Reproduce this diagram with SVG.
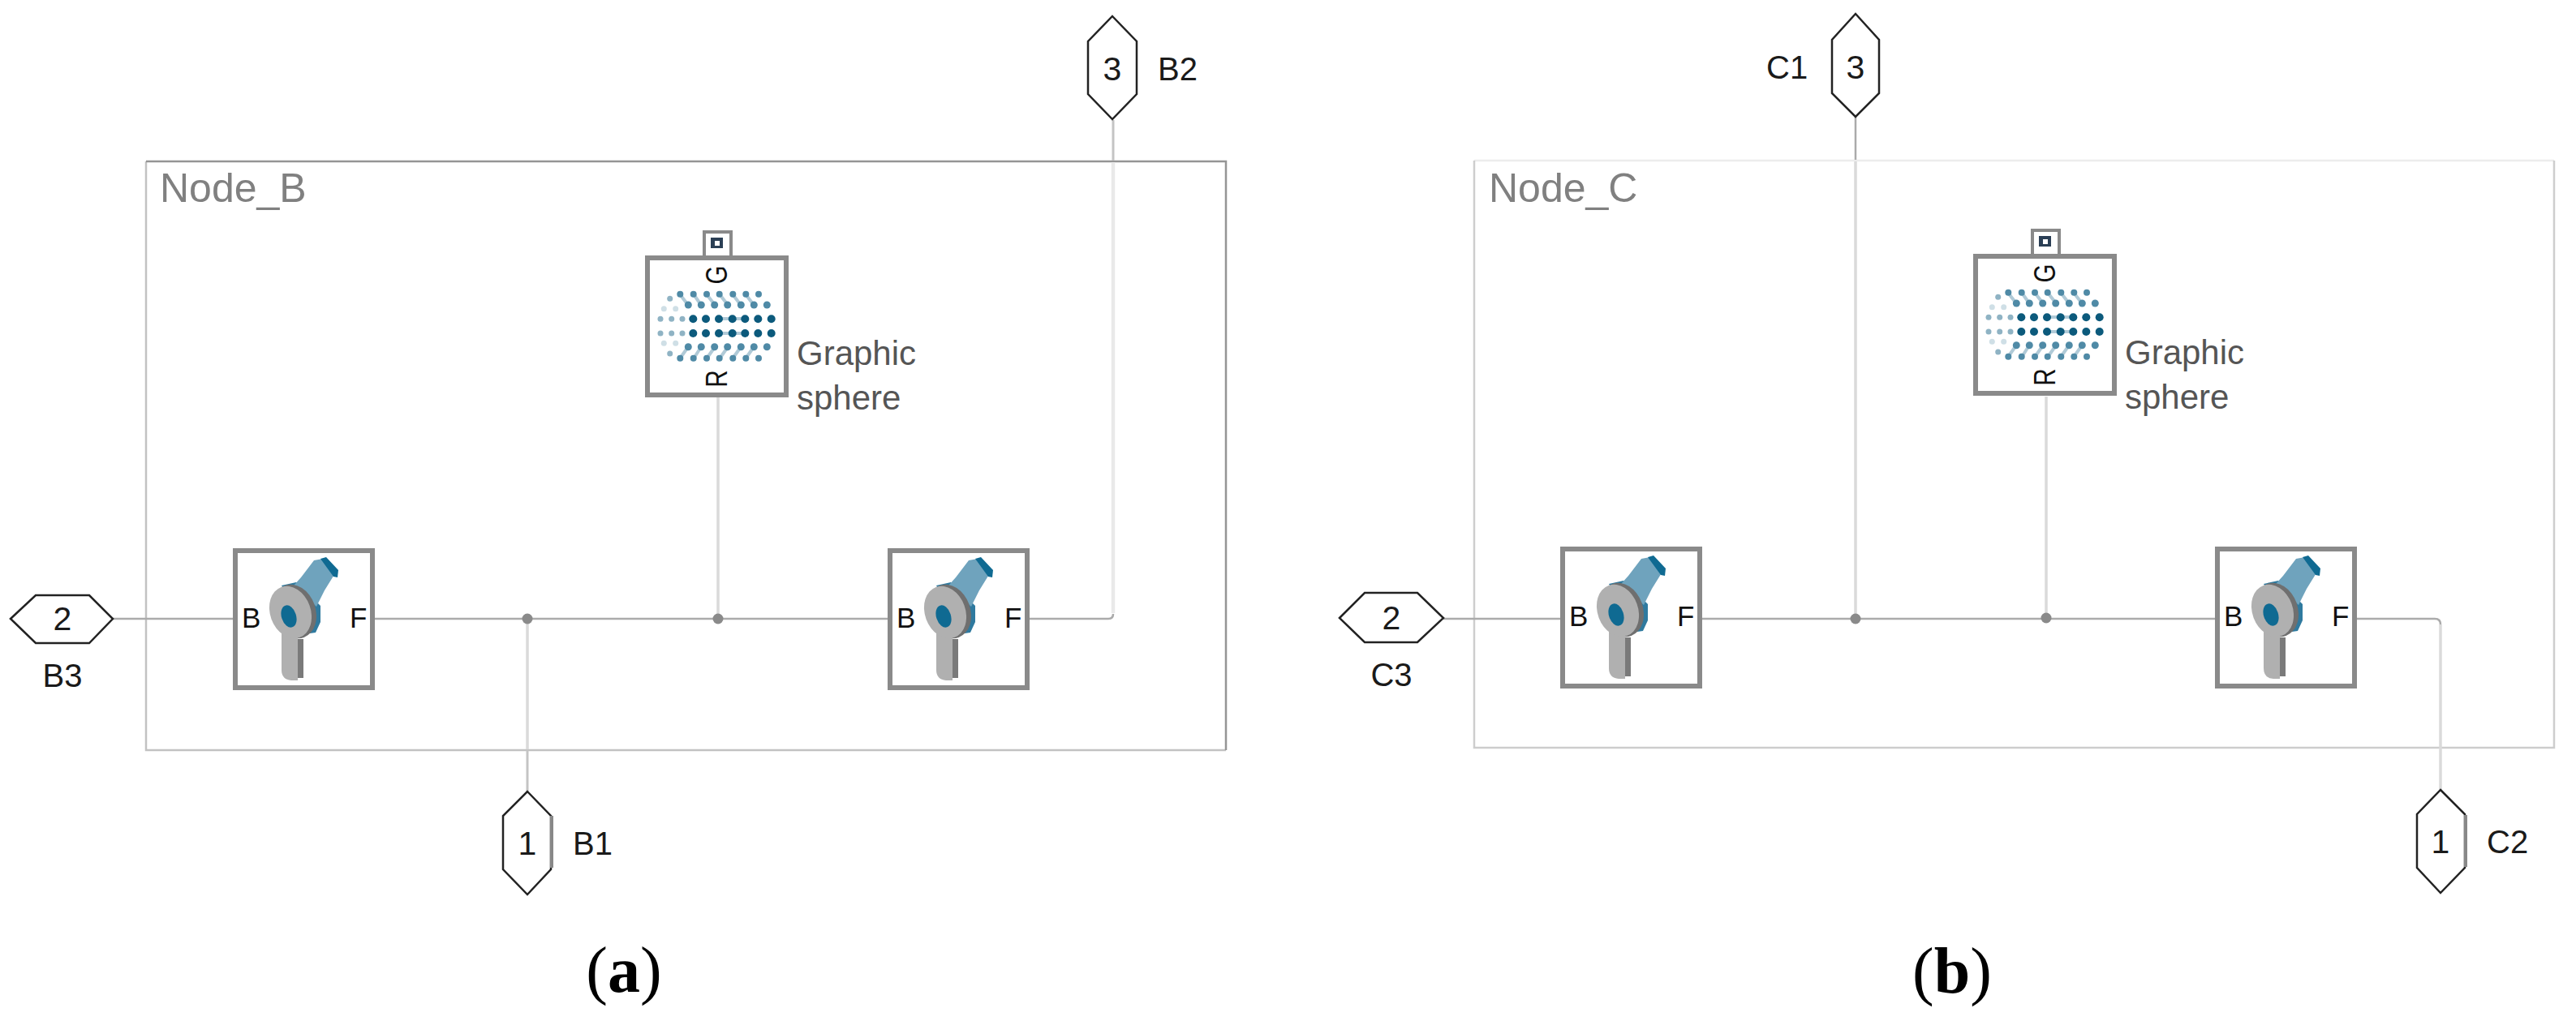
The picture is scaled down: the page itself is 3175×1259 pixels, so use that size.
<svg xmlns="http://www.w3.org/2000/svg" xmlns:xlink="http://www.w3.org/1999/xlink" width="3175" height="1259" viewBox="0 0 3175 1259">
<style>
text{font-family:"Liberation Sans",Arial,sans-serif}
.lbl{font-size:40px;fill:#1a1a1a}
.num{font-size:41px;fill:#1a1a1a;text-anchor:middle}
.title{font-size:50px;fill:#808080}
.gs{font-size:42px;fill:#555}
.pin{font-size:35px;fill:#111}
.rpin{font-size:37px;fill:#111;text-anchor:middle}
.cap{font-family:"Liberation Serif","Times New Roman",serif;font-size:80px;fill:#000;text-anchor:middle}
.capb{font-weight:bold}
.port{fill:#fff;stroke:#222;stroke-width:2.5;stroke-linejoin:miter}
.portside{fill:none;stroke:#888;stroke-width:4}
.blk{fill:#fff;stroke:#8a8a8a;stroke-width:6}
.wire{fill:none;stroke:#ababab;stroke-width:2.5}
.wirel{fill:none;stroke:#c4c4c4;stroke-width:3}
.wirep{fill:none;stroke:#e9e9e9;stroke-width:4.5}
.wirem{fill:none;stroke:#dadada;stroke-width:3.5}
.dot{fill:#8a8a8a}
.d1{fill:#0c5a7c}
.d2{fill:#4f8aa6}
.d3{fill:#8fb3c4}
.d4{fill:#cfdfe6}
.st{stroke:#4f8aa6;stroke-opacity:.45;stroke-width:4;fill:none}
</style>
<defs>
<g id="jointIcon">
<path d="M60,46L78,42L88,51L108,71L108,91L102,104L95,105Z" fill="#2f7a9f"/>
<path d="M84,36L100,15L111,13L126,31L113,52L103,72L75,46Z" fill="#6fa3bd"/>
<path d="M108,13L115,11L130,27L129,36L124,35Z" fill="#0f6a92"/>
<ellipse cx="76" cy="78" rx="26" ry="34" transform="rotate(-20 76 78)" fill="#6f6f6f"/>
<path d="M60,105L60,150Q60,162 72,163L80,163L80,107Z" fill="#b0b0b0"/>
<rect x="80" y="112" width="7" height="48" fill="#7a7a7a"/>
<ellipse cx="71" cy="79" rx="25" ry="33" transform="rotate(-20 71 79)" fill="#b0b0b0"/>
<ellipse cx="69" cy="84" rx="9" ry="14" transform="rotate(-18 69 84)" fill="#0f6a92"/>
</g>
<g id="sphereIcon">
<path class="st" d="M43,48L53,61M60,48L69,61M76,48L86,61M92,48L102,61M108,48L118,61M124,48L134,61M53,113L43,127M69,113L60,127M86,113L76,127M102,113L92,127M118,113L108,127M134,113L124,127"/>
<path class="st" d="M91,78H124M91,96H124"/>
<g class="d2"><circle cx="43.3" cy="47.7" r="4"/><circle cx="59.7" cy="47.7" r="4"/><circle cx="76" cy="47.7" r="4"/><circle cx="91.7" cy="47.7" r="4"/><circle cx="108.3" cy="47.7" r="4"/><circle cx="124.3" cy="47.7" r="4"/><circle cx="140" cy="47.7" r="4"/>
<circle cx="53.3" cy="61" r="4.5"/><circle cx="69.3" cy="61" r="4.5"/><circle cx="85.7" cy="61" r="4.5"/><circle cx="101.7" cy="61" r="4.5"/><circle cx="118.3" cy="61" r="4.5"/><circle cx="134.3" cy="61" r="4.5"/><circle cx="150.3" cy="61" r="4.5"/>
<circle cx="53.3" cy="112.7" r="4.5"/><circle cx="69.3" cy="112.7" r="4.5"/><circle cx="85.7" cy="112.7" r="4.5"/><circle cx="101.7" cy="112.7" r="4.5"/><circle cx="118.3" cy="112.7" r="4.5"/><circle cx="134.3" cy="112.7" r="4.5"/><circle cx="150.3" cy="112.7" r="4.5"/>
<circle cx="43.3" cy="126.7" r="4"/><circle cx="59.7" cy="126.7" r="4"/><circle cx="76" cy="126.7" r="4"/><circle cx="91.7" cy="126.7" r="4"/><circle cx="108.3" cy="126.7" r="4"/><circle cx="124.3" cy="126.7" r="4"/><circle cx="140" cy="126.7" r="4"/></g>
<g class="d1"><circle cx="59.3" cy="78.3" r="5"/><circle cx="75" cy="78.3" r="5"/><circle cx="91" cy="78.3" r="5"/><circle cx="107.7" cy="78.3" r="5"/><circle cx="123.3" cy="78.3" r="5"/><circle cx="139.3" cy="78.3" r="5"/><circle cx="155.7" cy="78.3" r="5"/>
<circle cx="59.3" cy="96" r="5"/><circle cx="75" cy="96" r="5"/><circle cx="91" cy="96" r="5"/><circle cx="107.7" cy="96" r="5"/><circle cx="123.3" cy="96" r="5"/><circle cx="139.3" cy="96" r="5"/><circle cx="155.7" cy="96" r="5"/></g>
<g class="d3"><circle cx="19" cy="78.3" r="3.5"/><circle cx="32.7" cy="78.3" r="3.5"/><circle cx="46" cy="78.3" r="3.5"/><circle cx="19" cy="96" r="3.5"/><circle cx="32.7" cy="96" r="3.5"/><circle cx="46" cy="96" r="3.5"/><circle cx="30.7" cy="53.3" r="3.5"/><circle cx="30.7" cy="121" r="3.5"/></g>
<g class="d4"><circle cx="23.3" cy="65.7" r="3.5"/><circle cx="37.7" cy="65.7" r="3.5"/><circle cx="23.3" cy="108.3" r="3.5"/><circle cx="37.7" cy="108.3" r="3.5"/></g>
</g>
<g id="blockSphere">
<rect x="73" y="-29" width="33" height="31" fill="#fff" stroke="#8a8a8a" stroke-width="4"/>
<rect x="81" y="-22" width="15" height="13" fill="#2b3f55"/>
<rect x="86" y="-18" width="6" height="6" fill="#fff"/>
<rect class="blk" x="3" y="3" width="171" height="169"/>
<use xlink:href="#sphereIcon" href="#sphereIcon"/>
<text class="rpin" transform="translate(101 24) rotate(-90) scale(.8 1)">G</text>
<text class="rpin" transform="translate(101 152) rotate(-90) scale(.8 1)">R</text>
</g>
<g id="blockJoint">
<rect class="blk" x="3" y="3" width="169" height="169"/>
<use xlink:href="#jointIcon" href="#jointIcon"/>
<text class="pin" x="11" y="98">B</text>
<text class="pin" x="144" y="98">F</text>
</g>
</defs>

<rect width="3175" height="1259" fill="#fff"/>

<g id="Node_B">
<path d="M180,199V925H1511" fill="none" stroke="#c2c2c2" stroke-width="2.5"/>
<path d="M180,199H1511V925" fill="none" stroke="#959595" stroke-width="2.5"/>
<text class="title" x="197" y="249">Node_B</text>
</g>
<g id="Node_C">
<path d="M1817,198H3148" fill="none" stroke="#ececec" stroke-width="2.5"/>
<path d="M1817,198V922H3148V198" fill="none" stroke="#cdcdcd" stroke-width="2.5"/>
<text class="title" x="1835" y="249">Node_C</text>
</g>

<g id="connectors">
<path class="wire" d="M139,763H290M460,763H1096M1266,763H1366Q1372,763 1372,757"/>
<path class="wirep" d="M1372,200V756"/>
<path class="wirel" d="M1372,148V198"/>
<path class="wirel" d="M650,924V976"/>
<path class="wirem" d="M650,763V924"/>
<path class="wirem" d="M885,490V763"/>
<circle class="dot" cx="650" cy="763" r="6.5"/>
<circle class="dot" cx="885" cy="763" r="6.5"/>
<path class="wire" d="M1779,763H1926M2096,763H2732M2902,763H3001Q3008,763 3008,770"/>
<path class="wirem" d="M3008,770V974"/>
<path class="wire" d="M2287,144V197"/>
<path class="wirem" d="M2287,199V763"/>
<path class="wirem" d="M2522,489V762"/>
<circle class="dot" cx="2287" cy="763" r="6.5"/>
<circle class="dot" cx="2522" cy="762" r="6.5"/>
</g>

<g id="B_joint1"><use xlink:href="#blockJoint" href="#blockJoint" x="287" y="676"/></g>
<g id="B_joint2"><use xlink:href="#blockJoint" href="#blockJoint" x="1094" y="676"/></g>
<g id="B_sphere"><use xlink:href="#blockSphere" href="#blockSphere" x="795" y="315"/>
<text class="gs" x="982" y="450">Graphic</text><text class="gs" x="982" y="505">sphere</text></g>
<g id="C_joint1"><use xlink:href="#blockJoint" href="#blockJoint" x="1923" y="674"/></g>
<g id="C_joint2"><use xlink:href="#blockJoint" href="#blockJoint" x="2730" y="674"/></g>
<g id="C_sphere"><use xlink:href="#blockSphere" href="#blockSphere" x="2432" y="313"/>
<text class="gs" x="2619" y="449">Graphic</text><text class="gs" x="2619" y="504">sphere</text></g>

<g id="port_B3"><polygon class="port" points="13,763 44,734 110,734 139,763 110,793 44,793"/><text class="num" x="77" y="777">2</text><text class="lbl" x="77" y="847" text-anchor="middle">B3</text></g>
<g id="port_B2"><polygon class="port" points="1371,20 1401,51 1401,116 1371,147 1341,116 1341,51"/><text class="num" x="1371" y="99">3</text><text class="lbl" x="1427" y="99">B2</text></g>
<g id="port_B1"><polygon class="port" points="650,976 679,1006 679,1072 650,1103 620,1072 620,1006"/><path class="portside" d="M680,1006V1070"/><text class="num" x="650" y="1054">1</text><text class="lbl" x="706" y="1054">B1</text></g>
<g id="port_C3"><polygon class="port" points="1651,762 1682,731 1747,731 1779,762 1747,792 1682,792"/><text class="num" x="1715" y="776">2</text><text class="lbl" x="1715" y="846" text-anchor="middle">C3</text></g>
<g id="port_C1"><polygon class="port" points="2287,17 2316,49 2316,115 2287,144 2258,115 2258,49"/><text class="num" x="2287" y="97">3</text><text class="lbl" x="2177" y="97">C1</text></g>
<g id="port_C2"><polygon class="port" points="3008,974 3038,1004 3038,1070 3008,1101 2979,1070 2979,1004"/><path class="portside" d="M3039,1005V1069"/><text class="num" x="3008" y="1052">1</text><text class="lbl" x="3065" y="1052">C2</text></g>

<text class="cap" x="769" y="1223">(<tspan class="capb">a</tspan>)</text>
<text class="cap" x="2406" y="1224">(<tspan class="capb">b</tspan>)</text>
</svg>
